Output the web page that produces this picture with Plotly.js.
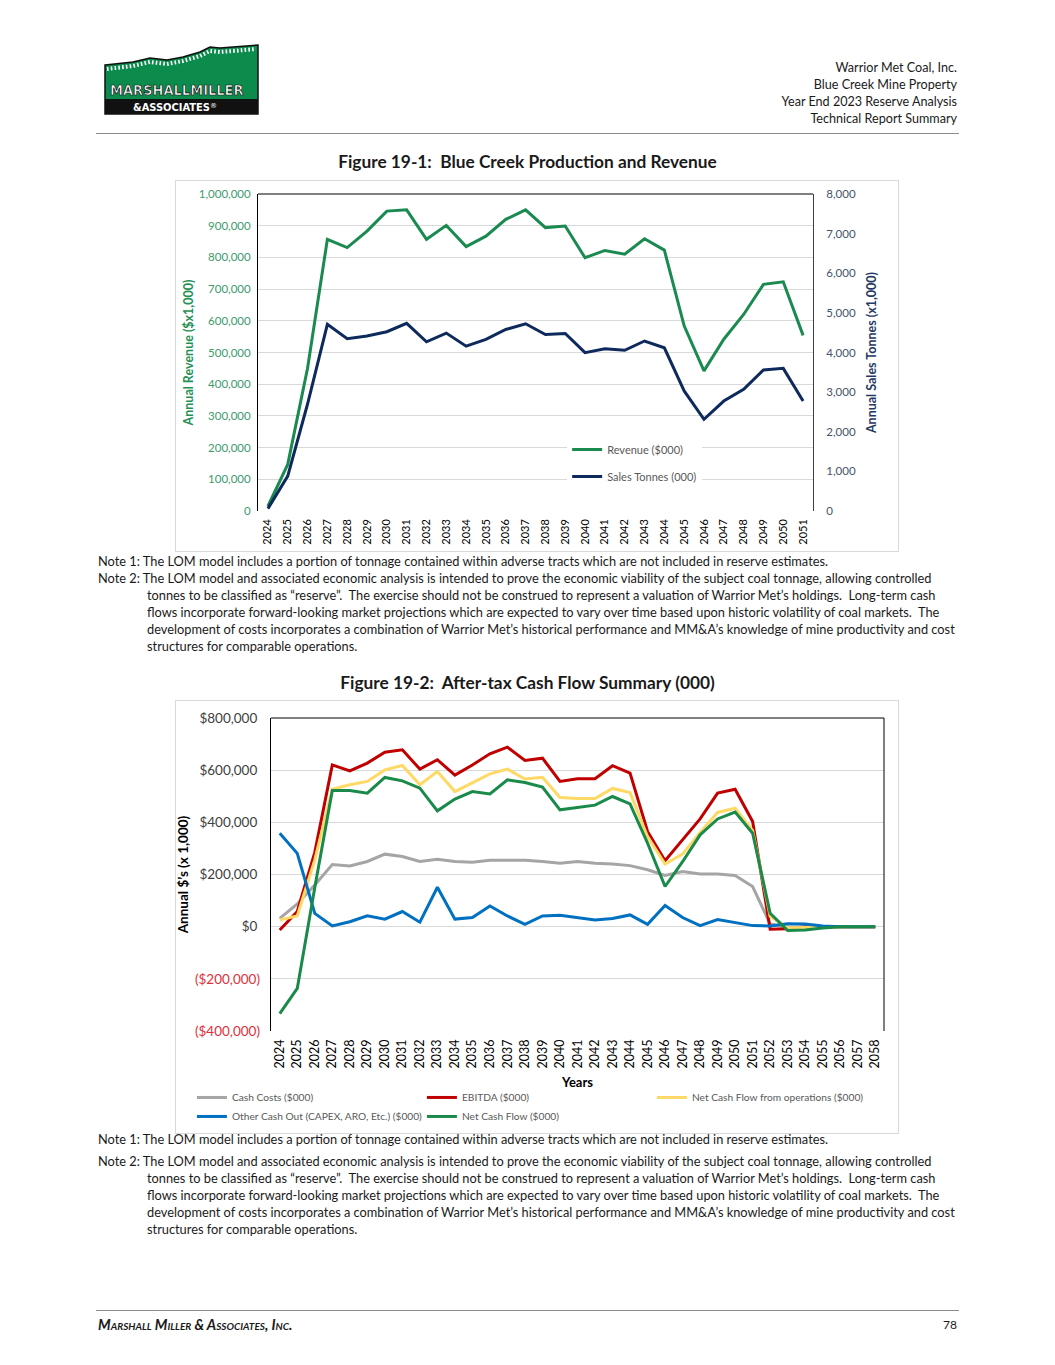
<!DOCTYPE html>
<html><head><meta charset="utf-8">
<script src="https://cdn.plot.ly/plotly-3.0.1.min.js"></script>
<style>
html,body{margin:0;padding:0;background:#fff;}
body{width:1055px;height:1365px;position:relative;overflow:hidden;font-family:Lato,"Open Sans",sans-serif;color:#1a1a1a;}
.abs{position:absolute;white-space:nowrap;}
.hdr{right:98px;text-align:right;font-size:12.6px;line-height:17px;}
.note{font-size:12.8px;line-height:17px;left:98px;}
.ind{left:147px;}
.ftitle{font-weight:bold;font-size:17.3px;width:1055px;text-align:center;left:0;line-height:20px;}
.box{position:absolute;border:1px solid #d9d9d9;box-sizing:border-box;}
</style>
</head><body>

<svg class="abs" style="left:103px;top:43px" width="162" height="74" viewBox="0 0 162 74">
  <polygon points="2,22 30,19 47,15 64,17 80,14 97,9 107,4 117,5 130,4 155,2 155,71 2,71" fill="#0b8c4d" stroke="#111" stroke-width="1.5"/>
  <polyline points="4,26 30,23 47,19 64,21 80,18 97,13 107,8 117,9 130,8 153,6" fill="none" stroke="#fff" stroke-width="4" stroke-dasharray="1.6 2.2"/>
  <rect x="2" y="56" width="153" height="15" fill="#111"/>
  <text x="7" y="52" font-family="'DejaVu Sans Condensed', 'DejaVu Sans', sans-serif" font-stretch="condensed" font-weight="bold" font-size="14.5" fill="#fff" stroke="#111" stroke-width="0.7">MARSHALLMILLER</text>
  <text x="30" y="68" font-family="'DejaVu Sans Condensed', 'DejaVu Sans', sans-serif" font-stretch="condensed" font-weight="bold" font-size="11" fill="#fff">&amp;ASSOCIATES</text>
  <text x="107" y="65" font-family="'DejaVu Sans', sans-serif" font-size="7" fill="#fff">®</text>
</svg>

<div class="abs hdr" style="top:59px">Warrior Met Coal, Inc.</div>
<div class="abs hdr" style="top:76px">Blue Creek Mine Property</div>
<div class="abs hdr" style="top:93px">Year End 2023 Reserve Analysis</div>
<div class="abs hdr" style="top:110px">Technical Report Summary</div>
<div class="abs" style="left:96px;top:133px;width:863px;height:0;border-top:1.5px solid #8c8c8c"></div>

<div class="abs ftitle" style="top:152px">Figure 19-1:&nbsp; Blue Creek Production and Revenue</div>
<div class="box" style="left:175px;top:180px;width:724px;height:372px"></div>
<div id="chart1" class="abs" style="left:175px;top:180px;width:723px;height:371px"></div>

<div class="abs note" style="top:553px">Note 1: The LOM model includes a portion of tonnage contained within adverse tracts which are not included in reserve estimates.</div>
<div class="abs note" style="top:570px">Note 2: The LOM model and associated economic analysis is intended to prove the economic viability of the subject coal tonnage, allowing controlled</div>
<div class="abs note ind" style="top:587px">tonnes to be classified as “reserve”.&nbsp; The exercise should not be construed to represent a valuation of Warrior Met’s holdings.&nbsp; Long-term cash</div>
<div class="abs note ind" style="top:604px">flows incorporate forward-looking market projections which are expected to vary over time based upon historic volatility of coal markets.&nbsp; The</div>
<div class="abs note ind" style="top:621px">development of costs incorporates a combination of Warrior Met’s historical performance and MM&amp;A’s knowledge of mine productivity and cost</div>
<div class="abs note ind" style="top:638px">structures for comparable operations.</div>

<div class="abs ftitle" style="top:673px">Figure 19-2:&nbsp; After-tax Cash Flow Summary (000)</div>
<div class="box" style="left:175px;top:700px;width:724px;height:434px"></div>

<div class="abs note" style="top:1131px">Note 1: The LOM model includes a portion of tonnage contained within adverse tracts which are not included in reserve estimates.</div>
<div class="abs note" style="top:1153px">Note 2: The LOM model and associated economic analysis is intended to prove the economic viability of the subject coal tonnage, allowing controlled</div>
<div class="abs note ind" style="top:1170px">tonnes to be classified as “reserve”.&nbsp; The exercise should not be construed to represent a valuation of Warrior Met’s holdings.&nbsp; Long-term cash</div>
<div class="abs note ind" style="top:1187px">flows incorporate forward-looking market projections which are expected to vary over time based upon historic volatility of coal markets.&nbsp; The</div>
<div class="abs note ind" style="top:1204px">development of costs incorporates a combination of Warrior Met’s historical performance and MM&amp;A’s knowledge of mine productivity and cost</div>
<div class="abs note ind" style="top:1221px">structures for comparable operations.</div>

<div id="chart2" class="abs" style="left:175px;top:700px;width:723px;height:445px"></div>

<div class="abs" style="left:96px;top:1310px;width:863px;height:0;border-top:1px solid #8c8c8c"></div>
<div class="abs" style="left:98px;top:1316px;font-size:14.4px;font-weight:bold;font-style:italic;font-variant:small-caps;">Marshall Miller &amp; Associates, Inc.</div>
<div class="abs" style="right:98px;top:1317px;font-size:12px;">78</div>

<script>
// ---------- Figure 19-1 data ----------
const years1 = ["2024","2025","2026","2027","2028","2029","2030","2031","2032","2033","2034","2035","2036","2037",
  "2038","2039","2040","2041","2042","2043","2044","2045","2046","2047","2048","2049","2050","2051"];
const revenue = [15000,147000,450000,857000,831000,883000,946000,950000,857000,901000,834000,867000,
  920000,950000,894000,899000,799000,822000,810000,859000,823000,584000,442000,542000,620000,715000,723000,554000];
const salesTonnes = [60,880,2700,4710,4350,4415,4525,4735,4270,4490,4160,4330,
  4580,4725,4455,4480,3995,4095,4055,4290,4120,3030,2315,2775,3070,3560,3600,2775];
const revTicks = [0,100000,200000,300000,400000,500000,600000,700000,800000,900000,1000000];
const tonTicks = [0,1000,2000,3000,4000,5000,6000,7000,8000];

// ---------- Figure 19-2 data ----------
const years2 = ["2024","2025","2026","2027","2028","2029","2030","2031","2032","2033","2034","2035","2036","2037",
  "2038","2039","2040","2041","2042","2043","2044","2045","2046","2047","2048","2049","2050","2051","2052","2053",
  "2054","2055","2056","2057","2058"];
const cashCosts = [32000,87000,160000,238000,233000,250000,278000,269000,250000,258000,250000,247000,255000,255000,255000,
  250000,243000,250000,243000,240000,234000,218000,196000,211000,202000,202000,196000,154000,10000,-3000,-2000,0,0,0,0];
const ebitda = [-13000,58000,285000,620000,597000,627000,669000,678000,604000,640000,581000,620000,663000,688000,637000,
  646000,557000,567000,567000,617000,589000,365000,253000,333000,413000,512000,527000,403000,-10000,-8000,0,0,0,0,0];
const ncfOps = [26000,41000,256000,527000,544000,557000,601000,618000,544000,595000,518000,553000,586000,604000,566000,
  573000,495000,491000,491000,530000,514000,345000,240000,278000,361000,438000,454000,368000,40000,-4000,-3000,0,0,0,0];
const otherCashOut = [358000,281000,51000,3000,19000,42000,29000,58000,17000,151000,29000,35000,79000,41000,9000,
  41000,44000,35000,26000,31000,45000,9000,81000,35000,4000,27000,15000,4000,3000,11000,10000,3000,0,0,0];
const netCashFlow = [-333000,-237000,150000,522000,522000,512000,572000,559000,531000,444000,489000,518000,509000,563000,553000,
  535000,448000,458000,466000,499000,471000,320000,154000,249000,352000,413000,439000,358000,51000,-15000,-13000,-5000,0,0,0];
const posTicks = [0,200000,400000,600000,800000];
const negTicks = [-200000,-400000];
const negTickText = ["($200,000)","($400,000)"];

const FONT = "Lato, 'Open Sans', sans-serif";

// ---------- Chart 1 ----------
const c1 = [
  {x: years1, y: revenue, type:'scatter', mode:'lines', name:'Revenue ($000)',
   line:{color:'#1a8a50', width:3}, legendgroup:'a', yaxis:'y'},
  {x: years1, y: salesTonnes, type:'scatter', mode:'lines', name:'Sales Tonnes (000)',
   line:{color:'#0e2a5c', width:3}, legendgroup:'b', yaxis:'y2'}
];
const l1 = {
  width:723, height:371, margin:{l:83, r:85, t:14, b:40},
  paper_bgcolor:'rgba(0,0,0,0)', plot_bgcolor:'#fff',
  font:{family:FONT, size:11, color:'#000'},
  showlegend:true,
  legend:{x:0.557, y:0.24, xanchor:'left', yanchor:'top',
    bgcolor:'#fff', font:{size:11, color:'#595959'}, tracegroupgap:8, traceorder:'grouped'},
  xaxis:{type:'category', range:[-0.5, years1.length-0.5], tickmode:'array', tickvals:years1, tickangle:-90,
    tickfont:{size:11, color:'#000'}, showgrid:false, ticks:'', showline:false, zeroline:false, ticklabelstandoff:5},
  yaxis:{range:[0,1000000], tickvals:revTicks, tickformat:',d', tickfont:{size:11.5, color:'#3c9a6e'},
    showgrid:true, gridcolor:'#d9d9d9', gridwidth:1, zeroline:false, ticklabelstandoff:4,
    showline:true, linecolor:'#000', linewidth:1, ticks:'',
    title:{text:'<b>Annual Revenue ($x1,000)</b>', font:{size:12.5, color:'#1f9157'}, standoff:2}},
  yaxis2:{range:[0,8000], tickvals:tonTicks, tickformat:',d', overlaying:'y', side:'right',
    tickfont:{size:11.5, color:'#44546a'}, showgrid:false, zeroline:false, ticklabelstandoff:10,
    showline:true, linecolor:'#404040', linewidth:1, ticks:'',
    title:{text:'<b>Annual Sales Tonnes (x1,000)</b>', font:{size:12.5, color:'#1f3864'}, standoff:12}},
  shapes:[{type:'line', xref:'paper', yref:'paper', x0:0, x1:1, y0:1, y1:1, line:{color:'#000', width:1}}]
};
Plotly.newPlot('chart1', c1, l1, {staticPlot:true});

// ---------- Chart 2 ----------
const c2 = [
  {x: years2, y: cashCosts, type:'scatter', mode:'lines', name:'Cash Costs ($000)', line:{color:'#a5a5a5', width:3}},
  {x: years2, y: ebitda, type:'scatter', mode:'lines', name:'EBITDA ($000)', line:{color:'#c00000', width:3}},
  {x: years2, y: ncfOps, type:'scatter', mode:'lines', name:'Net Cash Flow from operations ($000)', line:{color:'#ffd966', width:3}},
  {x: years2, y: otherCashOut, type:'scatter', mode:'lines', name:'Other Cash Out (CAPEX, ARO, Etc.) ($000)', line:{color:'#0070c0', width:3}},
  {x: years2, y: netCashFlow, type:'scatter', mode:'lines', name:'Net Cash Flow ($000)', line:{color:'#1a8a4a', width:3}, yaxis:'y2'}
];
const l2 = {
  width:723, height:445, margin:{l:96, r:14, t:18, b:114},
  paper_bgcolor:'rgba(0,0,0,0)', plot_bgcolor:'#fff',
  font:{family:FONT, size:12, color:'#000'},
  showlegend:true,
  legend:{orientation:'h', x:-0.129, y:-0.166, xanchor:'left', yanchor:'top',
    font:{size:10.2, color:'#595959'}, entrywidth:185, entrywidthmode:'pixels', bgcolor:'rgba(0,0,0,0)', traceorder:'normal'},
  xaxis:{type:'category', range:[-0.5, years2.length-0.5], tickmode:'array', tickvals:years2, tickangle:-90,
    tickfont:{size:12.5, color:'#000'}, showgrid:false, ticks:'', showline:false, zeroline:false, ticklabelstandoff:5,
    title:{text:'<b>Years</b>', font:{size:13, color:'#000'}, standoff:10}},
  yaxis:{range:[-400000,800000], tickvals:posTicks, tickformat:'$,.0f', tickfont:{size:13.5, color:'#404040'},
    showgrid:true, gridcolor:'#d9d9d9', gridwidth:1, zeroline:false, ticklabelstandoff:10,
    showline:true, linecolor:'#000', linewidth:1, ticks:'',
    title:{text:'<b>Annual $’s (x 1,000)</b>', font:{size:13.5, color:'#000'}, standoff:7}},
  yaxis2:{range:[-400000,800000], tickmode:'array', tickvals:negTicks, ticktext:negTickText, overlaying:'y', side:'left',
    tickfont:{size:13.5, color:'#e0303a'}, showgrid:true, gridcolor:'#d9d9d9', zeroline:false, showline:false, ticks:'',
    ticklabelstandoff:10},
  shapes:[
    {type:'line', xref:'paper', yref:'paper', x0:0, x1:1, y0:1, y1:1, line:{color:'#000', width:1}},
    {type:'line', xref:'paper', yref:'paper', x0:1, x1:1, y0:0, y1:1, line:{color:'#000', width:1}}
  ]
};
Plotly.newPlot('chart2', c2, l2, {staticPlot:true});
</script>
</body></html>
